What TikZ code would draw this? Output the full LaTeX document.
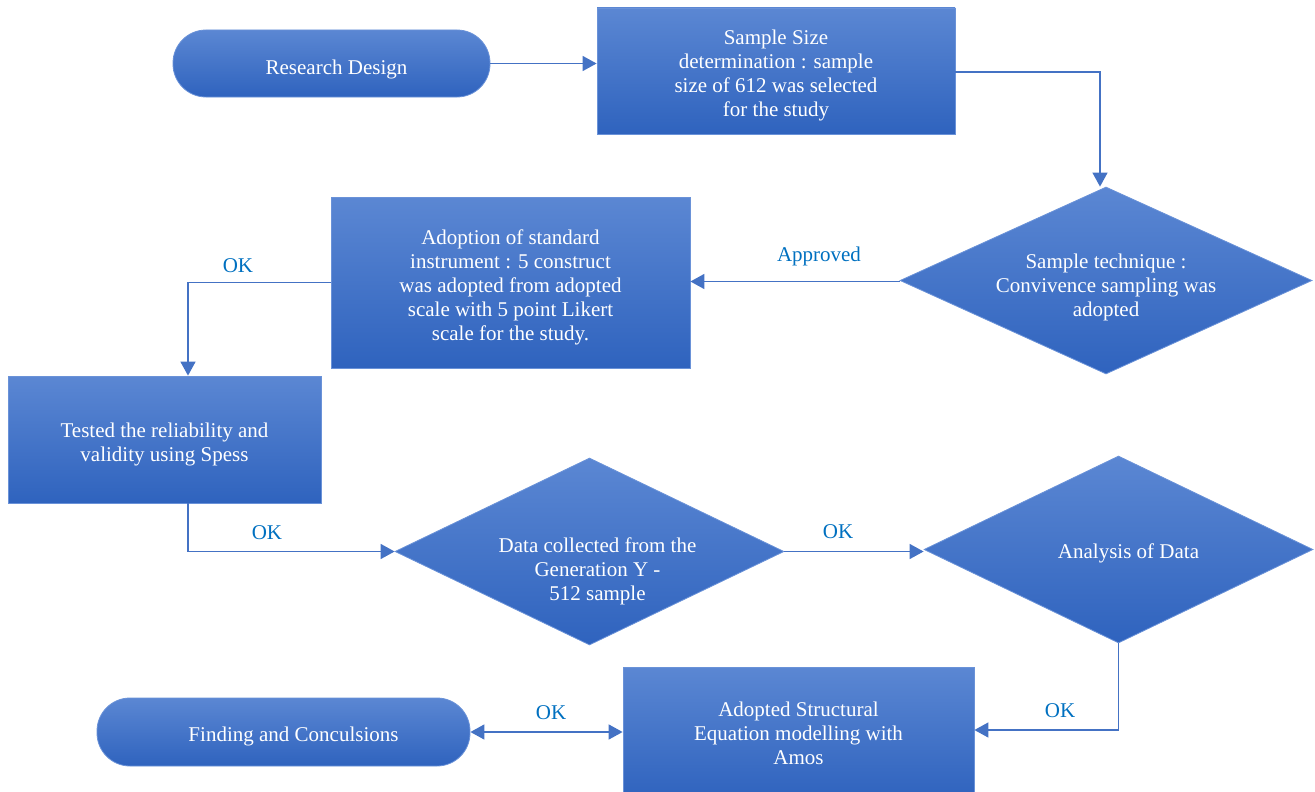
\documentclass[tikz,border=0pt]{standalone}
\usepackage{fontspec}
\setmainfont{Liberation Serif}
\usetikzlibrary{shapes.geometric,arrows.meta}
\definecolor{topc}{HTML}{5B87D3}
\definecolor{botc}{HTML}{2F63BE}
\definecolor{edgec}{HTML}{6A92D8}
\definecolor{linec}{HTML}{4472C4}
\definecolor{labc}{HTML}{0070C0}
\begin{document}
\begin{tikzpicture}[x=1pt,y=-1pt,
  shapebase/.style={top color=topc, bottom color=botc, draw=edgec, line width=0.8pt, inner sep=0pt},
  box/.style={shapebase, rectangle},
  term/.style={shapebase, rectangle, rounded corners=33pt},
  dia/.style={shapebase, diamond, aspect=2.1},
  txt/.style={text=white, align=center, font=\fontsize{21}{24}\selectfont, inner sep=0pt},
  conn/.style={draw=linec, line width=1.5pt, -{Triangle[length=14pt,width=15pt]}},
  bconn/.style={draw=linec, line width=1.5pt, {Triangle[length=14pt,width=15pt]}-{Triangle[length=14pt,width=15pt]}},
  lab/.style={text=labc, font=\fontsize{21}{24}\selectfont, inner sep=0pt}]
\useasboundingbox (0,0) rectangle (1315,792);
\clip (0,0) rectangle (1315,792);

\node[term, minimum width=317pt, minimum height=67pt] (rd) at (331.5,63.5) {};
\node[box, minimum width=358pt, minimum height=126pt] (ss) at (776,71) {};
\node[dia, minimum width=412pt, minimum height=187pt] (st) at (1106,280.5) {};
\node[box, minimum width=359pt, minimum height=171pt] (ad) at (510.5,282.5) {};
\node[box, minimum width=313pt, minimum height=127pt] (tr) at (164.5,439.5) {};
\node[dia, minimum width=389pt, minimum height=187pt] (dc) at (589.5,551.5) {};
\node[dia, minimum width=389pt, minimum height=187pt] (an) at (1118.5,549.5) {};
\node[box, minimum width=351pt, minimum height=132pt] (as) at (798.5,733) {};
\node[term, minimum width=373pt, minimum height=68pt] (fc) at (283.5,732) {};

\node[txt, xshift=5pt, yshift=-6pt] (rdt) at (rd.center) {Research Design};
\node[txt, yshift=-4pt] (sst) at (ss.center) {Sample Size\\determination : sample\\size of 612 was selected\\for the study};
\node[txt, yshift=-7pt] (stt) at (st.center) {Sample technique :\\Convivence sampling was\\adopted};
\node[txt, yshift=-5pt] (adt) at (ad.center) {Adoption of standard\\instrument : 5 construct\\was adopted from adopted\\scale with 5 point Likert\\scale for the study.};
\node[txt, yshift=-5pt] (trt) at (tr.center) {Tested the reliability and\\validity using Spess};
\node[txt, xshift=8pt, yshift=-20pt] (dct) at (dc.center) {Data collected from the\\Generation Y -\\512 sample};
\node[txt, xshift=10pt, yshift=-4pt] (ant) at (an.center) {Analysis of Data};
\node[txt, yshift=0pt] (ast) at (as.center) {Adopted Structural\\Equation modelling with\\Amos};
\node[txt, xshift=10pt, yshift=-4pt] (fct) at (fc.center) {Finding and Conculsions};

\draw[conn] (rd.east) -- (rd.east -| ss.west);
\draw[conn] ([yshift=-1pt]ss.east) -| ([xshift=-6pt]st.north);
\draw[conn] ([yshift=-1pt]st.west) -- ([yshift=-1pt]st.west -| ad.east);
\draw[conn] (ad.west) -| ([xshift=23.5pt]tr.north);
\draw[conn] ([xshift=23.5pt]tr.south) |- (dc.west);
\draw[conn] (dc.east) -- (dc.east -| an.west);
\draw[conn] (an.south) |- ([yshift=3pt]as.east);
\draw[bconn] (fc.east) -- (fc.east -| as.west);

\node[lab] (l1) at (819,256) {Approved};
\node[lab] (l2) at (238,266) {OK};
\node[lab] (l3) at (267,533) {OK};
\node[lab] (l4) at (838,532) {OK};
\node[lab] (l5) at (1060,711) {OK};
\node[lab] (l6) at (551,713) {OK};
\end{tikzpicture}
\end{document}
